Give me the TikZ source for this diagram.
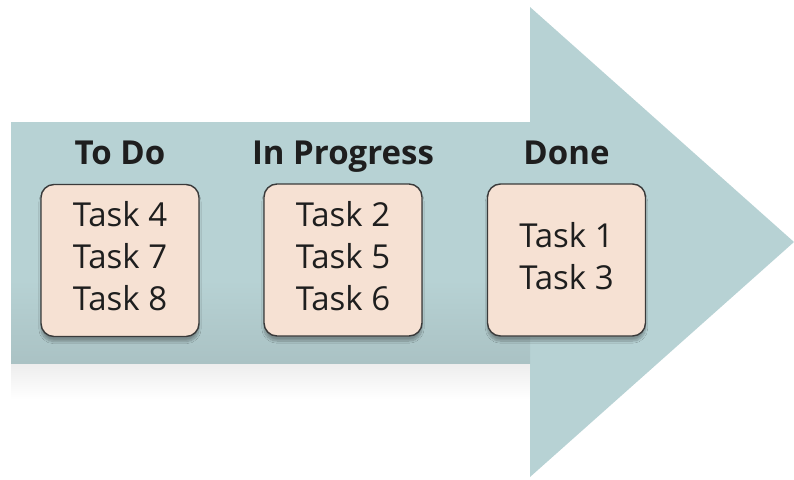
\documentclass[tikz,border=0pt]{standalone}
\usepackage{fontspec}
\setmainfont{Open Sans}
\usepackage{tikz}
\usetikzlibrary{positioning,shadows.blur,fadings}
\definecolor{arrowteal}{RGB}{183,210,212}
\definecolor{arrowdark}{RGB}{170,194,196}
\definecolor{taskpeach}{RGB}{246,225,211}
\definecolor{edgegray}{RGB}{58,58,58}
\definecolor{inkblack}{RGB}{30,30,30}
\newcommand{\tasklist}[1]{\raisebox{4pt}{\begin{tabular}{@{}c@{}}#1\end{tabular}}}

\begin{document}
\begin{tikzpicture}[
    x=1pt,y=-1pt,
    node distance=19pt,
    taskbox/.style={draw=edgegray,line width=1.4pt,fill=taskpeach,
      rounded corners=13pt,minimum width=158pt,minimum height=152pt,
      text=inkblack,font=\fontsize{33}{42}\selectfont,
      blur shadow={shadow xshift=0pt,shadow yshift=-5pt,
        shadow blur steps=12,shadow opacity=30}},
    header/.style={inner sep=0pt,text depth=0pt,text=inkblack,
      font=\fontsize{33}{40}\selectfont\bfseries}
  ]
    \useasboundingbox (0,0) rectangle (794,479);
    % big arrow with a soft shadow under its body
    \fill[black!7,path fading=south] (11,363) rectangle (530,400);
    \fill[arrowteal] (11,122) -- (530,122) -- (530,7) -- (794,242)
      -- (530,477) -- (530,363) -- (11,363) -- cycle;
    \fill[top color=arrowteal,bottom color=arrowdark] (11,280) rectangle (530,363);

    \node[taskbox] (todo) at (120,260.5) {\tasklist{Task 4\\Task 7\\Task 8}};
    \node[taskbox] (progress) at (343,260) {\tasklist{Task 2\\Task 5\\Task 6}};
    \node[taskbox] (done) at (566.5,260) {\tasklist{Task 1\\Task 3}};

    \node[header,above=of todo] (todohead) {To Do};
    \node[header,above=of progress] (progresshead) {In Progress};
    \node[header,above=of done] (donehead) {Done};
  \end{tikzpicture}
\end{document}
